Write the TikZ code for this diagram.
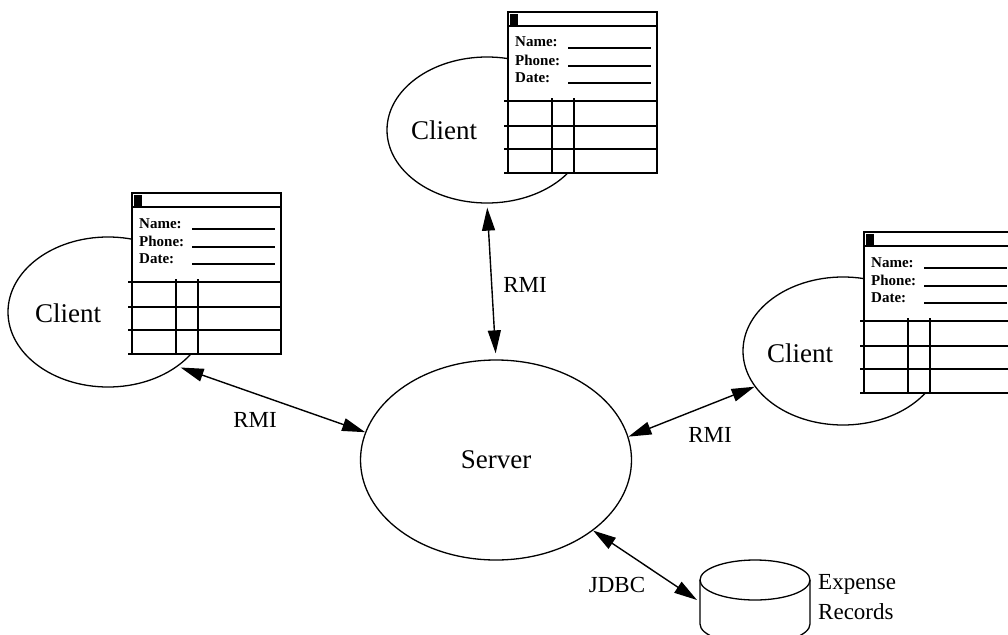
\documentclass[tikz,border=0pt]{standalone}
\usepackage{fontspec}
\setmainfont{Liberation Serif}
\usepackage{tikz}
\usetikzlibrary{shapes,arrows.meta}
\tikzset{>={Triangle[length=23pt,width=13pt]}}
\tikzset{
  bubble/.style={draw, ellipse, line width=1.3, inner sep=0},
  bubbletext/.style={font=\fontsize{27}{27}\selectfont, inner sep=0},
  formline/.style={line width=1.6},
  formtext/.style={font=\fontsize{15}{15}\selectfont\bfseries, inner sep=0, anchor=base west},
  link/.style={<->, line width=1.4},
  linklabel/.style={font=\fontsize{23}{23}\selectfont, inner sep=0}
}
% window with a little input form, top left corner at (#2,#3)
\newcommand{\clientform}[3]{%
  \begin{scope}[shift={(#2,#3)}]
    \filldraw[formline, fill=white] (0,0) rectangle (149,161);
    \draw[formline] (0,14) -- (149,14);
    \fill (2,2) rectangle (10,13);
    \node[formtext] (#1-name) at (7,35) {Name:};
    \node[formtext] (#1-phone) at (7,53) {Phone:};
    \node[formtext] (#1-date) at (7,70) {Date:};
    \draw[formline] (60,36) -- (143,36) (60,54) -- (143,54) (60,71) -- (143,71);
    \draw[formline] (-4,89) -- (149,89) (-4,114) -- (149,114) (-4,137) -- (149,137) (-4,161) -- (0,161);
    \draw[formline] (44,86) -- (44,161) (66,86) -- (66,161);
  \end{scope}}

\begin{document}
\begin{tikzpicture}[x=1pt,y=-1pt]

\useasboundingbox (0,0) rectangle (1008,634);
\fill[white] (0,0) rectangle (1008,634);
\clip (0,0) rectangle (1008,634);

% clients and server
\node[bubble, minimum width=200, minimum height=150] (c1) at (108,312) {};
\node[bubble, minimum width=200, minimum height=146] (c2) at (487,130) {};
\node[bubble, minimum width=200, minimum height=148] (c3) at (843,351) {};
\node[bubble, minimum width=271, minimum height=200, font=\fontsize{27}{27}\selectfont] (server) at (496,460) {Server};

\node[bubbletext] (c1-label) at (68,313) {Client};
\node[bubbletext] (c2-label) at (444,130) {Client};
\node[bubbletext] (c3-label) at (800,353) {Client};

\clientform{f1}{132}{193}
\clientform{f2}{508}{12}
\clientform{f3}{864}{232}

% database
\draw[line width=1.3] (700,580) -- (700,624) arc[start angle=180, end angle=0, x radius=55, y radius=20] -- (810,580);
\draw[line width=1.3] (755,580) ellipse [x radius=55, y radius=20];
\coordinate (db) at (697,600);
\node[font=\fontsize{23}{30}\selectfont, align=left, anchor=north west, inner sep=0] (dbtext) at (818,574) {Expense\\Records};

% connections
\draw[link, shorten <=3pt] (c1.-38) -- (server.168);
\draw[link, shorten <=4pt, shorten >=6pt] (c2.-90) -- (server.90);
\draw[link] (server.10) -- (c3.202);
\draw[link] (server.-36) -- (db);

\node[linklabel] (rmi1) at (255,420) {RMI};
\node[linklabel] (rmi2) at (525,285) {RMI};
\node[linklabel] (rmi3) at (710,435) {RMI};
\node[linklabel] (jdbc) at (617,585) {JDBC};

\end{tikzpicture}
\end{document}
